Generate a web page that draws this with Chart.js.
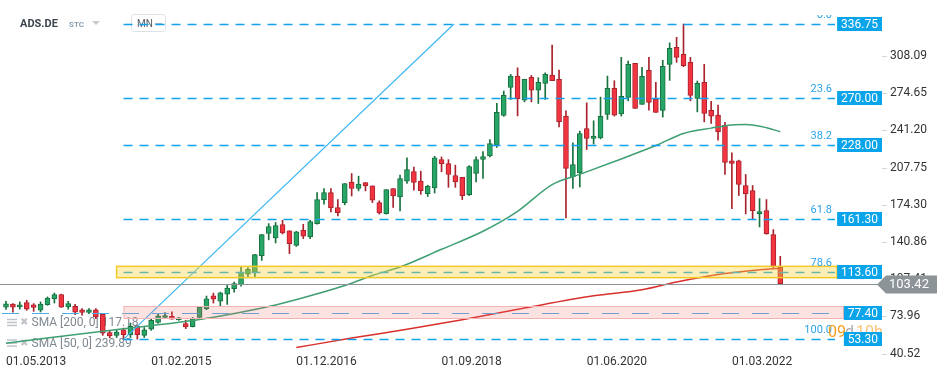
<!DOCTYPE html>
<html>
<head>
<meta charset="utf-8">
<script src="https://cdn.jsdelivr.net/npm/chart.js@4.4.1/dist/chart.umd.min.js"></script>
<style>
  html, body { margin: 0; padding: 0; background: #fff; }
  #wrap { width: 949px; height: 378px; }
</style>
</head>
<body>
<div id="wrap"><canvas id="chart" width="949" height="378"></canvas></div>
<script>
// ADS.DE monthly candles (MN)
const open = [
  82.3, 85, 82.5, 86.5, 84.5, 79.5, 84.5, 90, 93.5, 82.5, 83, 80, 77.5, 80, 75.8, 59.5, 57, 62, 57.5, 65,
  57, 62.5, 68.5, 73, 74, 71, 67.5, 64.8, 73, 80.8, 92.5, 87.7, 94, 98.9, 102.5, 112, 113.8, 128.5, 148.5, 144.5,
  156.5, 151, 137.8, 151.4, 145.4, 157.4, 179, 185.3, 171.9, 176.3, 194.8, 188.9, 194.3, 191.3, 176.3, 166.4, 188.9, 181.3, 195.6, 204.2,
  195.5, 184.4, 189.4, 214.9, 211.3, 200.6, 199, 183.5, 202.4, 215, 218.2, 227.9, 254.6, 279.8, 290, 268.4, 288.8, 277.4, 283.4, 290.9,
  287, 254, 199.3, 202.9, 242.9, 233.9, 234.4, 255.5, 278.9, 256, 270.8, 301.4, 264.5, 295.1, 269, 259.1, 300.5, 315.8, 309.5, 302.3,
  269.9, 284.3, 259.1, 254.9, 245.6, 213.8, 213.8, 191.6, 187.1, 166, 169.1, 147.5, 118.1
];
const high = [
  87.5, 85.5, 87, 88.5, 85.5, 87, 91.5, 95, 94, 87.5, 84.8, 81, 81, 81, 76, 61.5, 62, 63.5, 68, 66,
  64, 72, 76.5, 77.5, 78, 73, 70.5, 73, 83, 92.3, 94.9, 95.8, 101.9, 104.8, 118.3, 117.8, 129.8, 147.7, 157.4, 158.4,
  160.4, 151, 150.5, 156.8, 160.4, 185.3, 188.9, 188.9, 178.9, 193.4, 202.4, 200, 194.3, 191.3, 177.9, 187.9, 188.9, 200.9, 216.5, 208.3,
  204.5, 191.9, 217.9, 217.3, 214.9, 209.9, 199, 209.5, 217.3, 222.2, 232.9, 265.4, 276.5, 291.5, 297.4, 287, 290.5, 288.5, 292.9, 317.8,
  295.4, 258.8, 230, 240.5, 265.9, 249.8, 271.1, 290, 285.8, 306.8, 303.5, 301.4, 297.8, 306.8, 284.3, 304.1, 319.9, 324.8, 336.75, 306.8,
  285.5, 300.5, 267.2, 263.9, 248.3, 220.9, 214.4, 201.5, 191.6, 179.9, 179, 152, 128
];
const low = [
  80.3, 77.8, 80.5, 79.5, 78.5, 78, 84, 86, 82, 80.5, 75.5, 75, 76.5, 72, 57, 54.8, 55, 53.3, 55, 53.5,
  55, 61.5, 68, 73, 71.5, 70.5, 63, 64.5, 72, 80, 86, 83.2, 84.75, 95.8, 101.2, 109.3, 109.3, 124.3, 142.8, 140,
  148, 130.4, 136.9, 143.9, 143.9, 156.8, 174.8, 167.8, 164.2, 174.3, 182.2, 186.8, 186.8, 176.3, 165.9, 165.9, 172, 168.7, 193.4, 187.4,
  183.7, 181.7, 184.9, 204, 190, 190, 179, 182.6, 194.8, 197.9, 217.3, 225.8, 253.8, 269, 254.2, 266.8, 266.8, 265.3, 269, 285.8,
  244.3, 162.5, 188.9, 190.3, 224, 228.8, 233.5, 251, 254, 254, 267.7, 260.9, 264.5, 259.4, 257.3, 253.1, 286.1, 302.3, 298.4, 267.7,
  257.8, 248.8, 247.4, 232.4, 201.5, 170.9, 182.6, 166.1, 161.6, 154.4, 147.8, 117, 103.4
];
const close = [
  85.3, 82.3, 84.5, 80.5, 82, 85, 90.5, 93.5, 82.3, 85.5, 77.8, 77.5, 80, 73.5, 59, 56.5, 60, 57.5, 65, 57.5,
  62, 70.5, 74.5, 74, 71.5, 72.5, 64.5, 72, 82.5, 89.8, 89.5, 95.2, 99.4, 103.4, 113.3, 116.2, 129.5, 147.5, 154.8, 155.7,
  149, 139.4, 150.1, 146, 159.2, 179, 185.3, 171.5, 167.3, 193.4, 188.9, 192.8, 191.3, 178.4, 167, 187.9, 182.2, 197.8, 205.9, 194.4,
  187.1, 191, 216.4, 211.3, 201.5, 194.8, 182.6, 208.7, 215, 217.6, 229.4, 257.3, 272.6, 290, 269.6, 287, 277.4, 284.3, 291.5, 285.8,
  248.9, 207, 210.4, 238.4, 233.9, 236, 253.7, 278.9, 254.9, 271.7, 300.5, 260.9, 289.7, 266.3, 257.3, 298.7, 314.9, 306.8, 299.3, 272.6,
  283.4, 256.4, 254, 239.8, 212.3, 211.4, 192.5, 184, 169.1, 168.2, 148.4, 119.3, 103.42
];

const dateTicks = ['01.05.2013', '01.02.2015', '01.12.2016', '01.09.2018', '01.06.2020', '01.03.2022'];
const dateTickIdx = [0, 21, 42, 63, 84, 105];
const priceTicks = [40.52, 73.96, 107.41, 140.86, 174.30, 207.75, 241.20, 274.65, 308.09];

// moving averages, sampled along the drawn lines
const sma50Idx = [0, 17, 28, 39, 44, 50, 53, 57, 63, 69, 74, 79, 83, 88, 94, 98, 102, 105, 107, 110, 112];
const sma50 = [49.9, 63.0, 71.3, 84.3, 92.5, 103.8, 110.8, 118.4, 134.3, 150.5, 168.4, 192.5, 201.6, 213.2, 227.6, 238.4, 243.2, 246.0, 246.4, 243.6, 239.89];
const sma200Idx = [42, 50, 58, 66, 75, 85, 92, 97, 104, 111, 112];
const sma200 = [46.0, 54.5, 62.5, 71.0, 81.5, 92.5, 98.0, 105.0, 112.6, 116.9, 117.15];

// fibonacci retracement, support zones
const fibLevels = [336.75, 270.00, 228.00, 161.30, 113.60, 53.30];
const fibNames = ['0.0', '23.6', '38.2', '61.8', '78.6', '100.0'];
const fibStartIdx = 17;
const supportLevel = 77.40;
const lastPrice = 103.42;
const yellowZone = [108.8, 119.0];
const pinkZone = [72.4, 83.0];
const trendLine = [[17, 53.3], [64.8, 336.75]];
const smaLegend = ['SMA [200, 0] 117.18', 'SMA [50, 0] 239.89'];

const idx = open.map((_, i) => i);
const isUp = idx.map(i => close[i] >= open[i]);
const UP = '#27a566', UP_DARK = '#18713f';
const DN = '#f1343f', DN_DARK = '#a9232d';
const BLUE = '#12a0ee';

function priceTag(ctx, text, yy, right, bg) {
  ctx.font = '12px Roboto';
  const w = ctx.measureText(text).width + 8;
  ctx.fillStyle = bg;
  ctx.fillRect(right - w, Math.round(yy) - 7, w, 14);
  ctx.fillStyle = '#fff';
  ctx.textAlign = 'left';
  ctx.textBaseline = 'middle';
  ctx.fillText(text, right - w + 4, Math.round(yy) + 0.5);
}

function noPad(s) {
  s.paddingTop = 0; s.paddingBottom = 0; s.paddingLeft = 0; s.paddingRight = 0;
}

const overlay = {
  id: 'overlay',
  beforeDatasetsDraw(chart) {
    const ctx = chart.ctx;
    ctx.save();
    // header
    ctx.textBaseline = 'middle';
    ctx.textAlign = 'left';
    ctx.fillStyle = '#3c4550';
    ctx.font = 'bold 11px Roboto';
    ctx.fillText('ADS.DE', 20, 24);
    ctx.fillStyle = '#8fa0b0';
    ctx.font = 'bold 8px Roboto';
    ctx.fillText('STC', 69, 24.5);
    ctx.fillStyle = '#c5cbd1';
    ctx.beginPath(); ctx.moveTo(92, 21); ctx.lineTo(100, 21); ctx.lineTo(96, 25); ctx.fill();
    ctx.strokeStyle = '#dde1e5'; ctx.lineWidth = 1;
    ctx.beginPath(); ctx.roundRect(131.5, 14.5, 34, 17, 3); ctx.stroke();
    ctx.fillStyle = '#56606a'; ctx.font = '10px Roboto';
    ctx.fillText('MN', 137, 24);
    ctx.fillStyle = '#b5bcc3';
    ctx.fillRect(155, 23, 7, 2);
    // indicator legend
    const rows = [322.7, 343.3];
    rows.forEach((ry, k) => {
      ctx.fillStyle = '#bfc5cb';
      for (let j = 0; j < 3; j++) ctx.fillRect(7, ry - 4 + j * 3, 10, 1.5);
      ctx.font = '10px "DejaVu Sans"';
      ctx.fillText('\u2716', 20, ry);
      ctx.fillStyle = 'rgba(105,115,125,0.85)';
      ctx.font = '12px Roboto';
      ctx.fillText(smaLegend[k], 31.5, ry + 0.5);
    });
    ctx.restore();
  },
  afterDatasetsDraw(chart) {
    const { ctx, chartArea: a, scales: { x, y } } = chart;
    ctx.save();
    ctx.beginPath();
    ctx.rect(a.left, a.top, a.right - a.left, a.bottom - a.top);
    ctx.clip();
    // support level dashed line
    ctx.strokeStyle = '#4aaee8';
    ctx.lineWidth = 1;
    ctx.setLineDash([17, 13]);
    const ys = Math.round(y.getPixelForValue(supportLevel)) + 0.5;
    ctx.beginPath(); ctx.moveTo(a.left + 2, ys); ctx.lineTo(a.right, ys); ctx.stroke();
    // fibonacci lines
    const fx = x.getPixelForValue(fibStartIdx);
    ctx.strokeStyle = BLUE;
    ctx.lineWidth = 1.3;
    ctx.setLineDash([9, 7]);
    fibLevels.forEach(v => {
      const yy = Math.round(y.getPixelForValue(v)) + 0.5;
      ctx.beginPath(); ctx.moveTo(fx, yy); ctx.lineTo(a.right - 3, yy); ctx.stroke();
    });
    ctx.setLineDash([]);
    // trend line from the low to the 0.0 level
    ctx.strokeStyle = '#3db7f3';
    ctx.lineWidth = 1.2;
    ctx.beginPath();
    ctx.moveTo(x.getPixelForValue(trendLine[0][0]), y.getPixelForValue(trendLine[0][1]));
    ctx.lineTo(x.getPixelForValue(trendLine[1][0]), y.getPixelForValue(trendLine[1][1]));
    ctx.stroke();
    ctx.restore();

    ctx.save();
    // zones (translucent, over candles)
    const zy1 = y.getPixelForValue(yellowZone[1]), zy0 = y.getPixelForValue(yellowZone[0]);
    const zx = x.getPixelForValue(16);
    ctx.fillStyle = 'rgba(250,214,60,0.38)';
    ctx.fillRect(zx, zy1, a.right - 1 - zx, zy0 - zy1);
    ctx.strokeStyle = '#f6c92b'; ctx.lineWidth = 1.5;
    ctx.strokeRect(zx, zy1, a.right - 1 - zx, zy0 - zy1);
    const py1 = y.getPixelForValue(pinkZone[1]), py0 = y.getPixelForValue(pinkZone[0]);
    const px = x.getPixelForValue(17);
    ctx.fillStyle = 'rgba(244,110,110,0.2)';
    ctx.fillRect(px, py1, a.right + 5 - px, py0 - py1);
    ctx.strokeStyle = '#f3b3b3'; ctx.lineWidth = 1;
    ctx.strokeRect(px + 0.5, Math.round(py1) + 0.5, a.right + 5 - px, Math.round(py0 - py1));
    // last price line
    const yl = Math.round(y.getPixelForValue(lastPrice)) + 0.5;
    ctx.strokeStyle = '#8d9498'; ctx.lineWidth = 1;
    ctx.beginPath(); ctx.moveTo(0, yl); ctx.lineTo(878, yl); ctx.stroke();
    // fib labels
    ctx.font = '11px Roboto';
    ctx.fillStyle = '#2ea3e6';
    ctx.textAlign = 'right';
    ctx.textBaseline = 'middle';
    fibLevels.forEach((v, i) => {
      const yy = y.getPixelForValue(v) - 9;
      if (i === 0) {
        ctx.save();
        ctx.beginPath(); ctx.rect(800, 15, 40, 10); ctx.clip();
        ctx.fillText(fibNames[i], 832, yy);
        ctx.restore();
      } else {
        ctx.fillText(fibNames[i], 832, yy);
      }
    });
    // countdown
    ctx.textAlign = 'left';
    ctx.font = '16px Roboto';
    ctx.fillStyle = '#f59d1f';
    ctx.fillText('09', 828, 333);
    ctx.fillStyle = 'rgba(140,140,140,0.7)';
    ctx.fillText('d', 845, 333);
    ctx.fillStyle = 'rgba(245,157,31,0.6)';
    ctx.fillText('10h', 856, 333);
    // price tags
    fibLevels.forEach(v => priceTag(ctx, v.toFixed(2), y.getPixelForValue(v), 882, '#0aa4ea'));
    priceTag(ctx, supportLevel.toFixed(2), y.getPixelForValue(supportLevel), 882, '#0aa4ea');
    // axis tick marks
    ctx.strokeStyle = '#d4d7da';
    priceTicks.forEach(v => {
      const yy = Math.round(y.getPixelForValue(v)) + 0.5;
      ctx.beginPath(); ctx.moveTo(882, yy); ctx.lineTo(887, yy); ctx.stroke();
    });
    // last price tag
    ctx.fillStyle = '#8d9498';
    ctx.beginPath();
    ctx.moveTo(877, yl); ctx.lineTo(886, yl - 9); ctx.lineTo(937, yl - 9);
    ctx.lineTo(937, yl + 9); ctx.lineTo(886, yl + 9); ctx.closePath(); ctx.fill();
    ctx.fillStyle = '#fff';
    ctx.font = '13px Roboto';
    ctx.fillText(lastPrice.toFixed(2), 889, yl + 0.5);
    ctx.restore();
  }
};

Chart.defaults.font.family = 'Roboto';
new Chart(document.getElementById('chart'), {
  data: {
    datasets: [
      {
        type: 'line',
        data: sma50Idx.map((v, i) => ({ x: v, y: sma50[i] })),
        borderColor: '#3f9f73',
        borderWidth: 1.5,
        pointRadius: 0,
        cubicInterpolationMode: 'monotone'
      },
      {
        type: 'line',
        data: sma200Idx.map((v, i) => ({ x: v, y: sma200[i] })),
        borderColor: '#d8302c',
        borderWidth: 1.5,
        pointRadius: 0,
        cubicInterpolationMode: 'monotone'
      },
      {
        type: 'bar',
        data: idx.map(i => ({ x: i, y: [open[i], close[i]] })),
        backgroundColor: idx.map(i => isUp[i] ? UP : DN),
        borderColor: idx.map(i => isUp[i] ? UP_DARK : DN_DARK),
        borderWidth: 1,
        borderSkipped: false,
        barThickness: 5,
        minBarLength: 2,
        grouped: false
      },
      {
        type: 'bar',
        data: idx.map(i => ({ x: i, y: [low[i], high[i]] })),
        backgroundColor: idx.map(i => isUp[i] ? UP_DARK : DN_DARK),
        borderWidth: 0,
        barThickness: 1,
        grouped: false
      }
    ]
  },
  options: {
    responsive: false,
    animation: false,
    events: [],
    layout: { padding: 0 },
    plugins: { legend: { display: false }, tooltip: { enabled: false } },
    scales: {
      x: {
        type: 'linear',
        offset: false,
        min: -0.868,
        max: 120.35,
        grid: { display: false, drawTicks: false },
        border: { display: false },
        afterBuildTicks: s => { s.ticks = dateTickIdx.map(v => ({ value: v })); },
        afterFit: s => { s.height = 24; noPad(s); },
        ticks: {
          autoSkip: false,
          maxRotation: 0,
          align: 'start',
          padding: 1,
          color: '#333',
          font: { size: 12 },
          callback: v => dateTicks[dateTickIdx.indexOf(v)]
        }
      },
      y: {
        type: 'linear',
        position: 'right',
        min: 40.2,
        max: 358.35,
        grid: { display: false, drawTicks: false },
        border: { display: false },
        afterBuildTicks: s => { s.ticks = priceTicks.map(v => ({ value: v })); },
        afterFit: s => { s.width = 111; noPad(s); },
        ticks: {
          padding: 52,
          color: '#333',
          font: { size: 12 },
          callback: v => v.toFixed(2)
        }
      }
    }
  },
  plugins: [overlay]
});
</script>
</body>
</html>
